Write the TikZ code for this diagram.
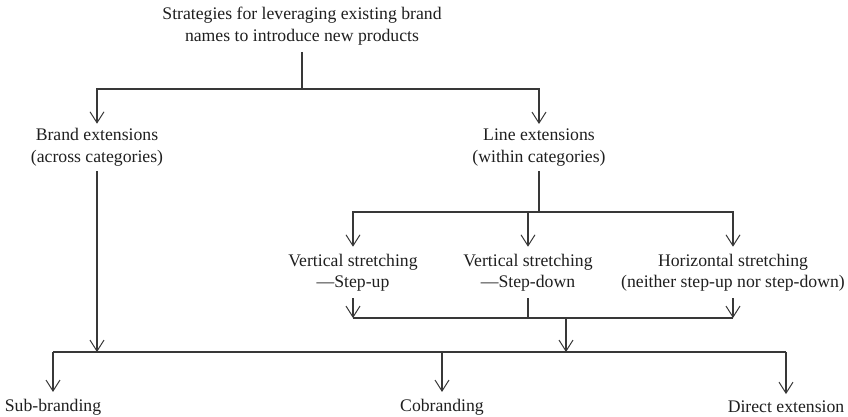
\documentclass[tikz,border=0pt]{standalone}
\usepackage{fontspec}
\setmainfont{Liberation Serif}
\usetikzlibrary{arrows.meta,calc}
\begin{document}
\begin{tikzpicture}[x=1pt,y=-1pt,
  lbl/.style={font=\fontsize{17.7}{21.5}\selectfont, align=center,
              inner sep=0pt, outer sep=7pt, text=black!88},
  lvlone/.style={lbl, outer ysep=5pt},
  link/.style={draw=black!78, line width=1.1pt},
  tip/.style={link, -{Straight Barb[length=11pt,width=14pt,line width=1pt]}}]
\useasboundingbox (0,0) rectangle (848,416);

% bus heights
\coordinate (busA) at (0,89);
\coordinate (busB) at (0,212);
\coordinate (busC) at (0,318);
\coordinate (busD) at (0,352);

% labels
\node[lbl] (top) at (302,26)
  {Strategies for leveraging existing brand\\names to introduce new products};
\node[lvlone] (brand) at (97,147.5) {Brand extensions\\(across categories)};
\node[lvlone] (line)  at (539,147.5) {Line extensions\\(within categories)};
\node[lbl] (vup)   at (353,272.5) {Vertical stretching\\---Step-up};
\node[lbl] (vdown) at (528,272.5) {Vertical stretching\\---Step-down};
\node[lbl] (horiz) at (733,272.5) {Horizontal stretching\\(neither step-up nor step-down)};
\node[lbl] (sub)    at (53,407)  {Sub-branding};
\node[lbl] (co)     at (442,407) {Cobranding};
\node[lbl] (direct) at (786,407) {Direct extension};

% top split
\draw[link] (top.south) -- (top.south |- busA);
\draw[tip] (top.south |- busA) -| (brand.north);
\draw[tip] (top.south |- busA) -| (line.north);

% line extensions split
\draw[link] (line.south) -- (line.south |- busB);
\draw[tip] (line.south |- busB) -| (vup.north);
\draw[tip] (line.south |- busB) -| (vdown.north);
\draw[tip] (line.south |- busB) -| (horiz.north);

% stretching options merge
\draw[tip] (vup.south) -- (vup.south |- busC);
\draw[link] (vdown.south) -- (vdown.south |- busC);
\draw[tip] (horiz.south) -- (horiz.south |- busC);
\draw[link] (vup.south |- busC) -- (horiz.south |- busC);
\coordinate (merge) at (566,318);
\draw[tip] (merge) -- (merge |- busD);

% brand extensions down to the bottom bus
\draw[tip] (brand.south) -- (brand.south |- busD);

% bottom split
\draw[link] (sub.north |- busD) -- (direct.north |- busD);
\draw[tip] (sub.north |- busD) -- (sub.north);
\draw[tip] (co.north |- busD) -- (co.north);
\draw[tip] (direct.north |- busD) -- (direct.north);
\end{tikzpicture}
\end{document}
